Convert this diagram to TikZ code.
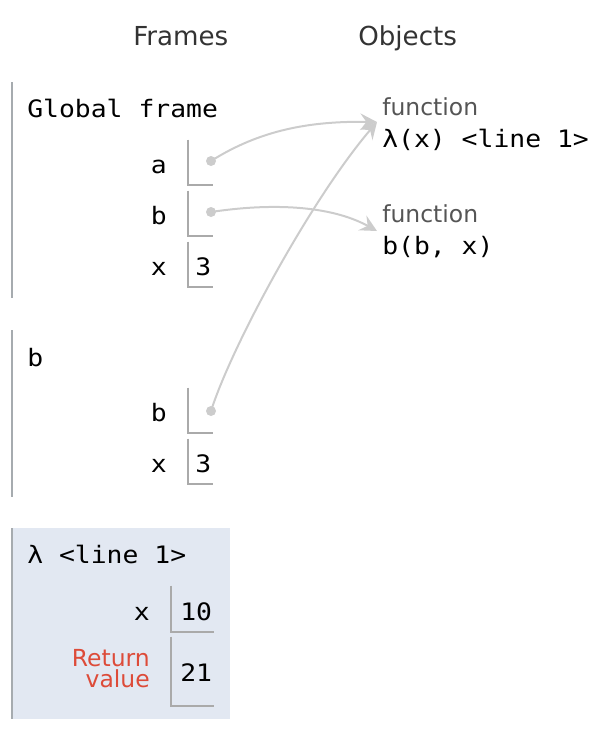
\documentclass[tikz,border=0pt]{standalone}
\usepackage{fontspec}
\setmainfont{DejaVu Sans}
\setmonofont{DejaVu Sans Mono}[FakeStretch=1.1]
\usetikzlibrary{arrows.meta}

\definecolor{framebar}{HTML}{A6ABAF}
\definecolor{boxline}{HTML}{AAAAAA}
\definecolor{linkgray}{HTML}{CCCCCC}
\definecolor{headgray}{HTML}{333333}
\definecolor{objgray}{HTML}{555555}
\definecolor{retred}{HTML}{DD4B39}
\definecolor{activebg}{HTML}{E2E8F2}

\tikzset{
  heading/.style={font=\fontsize{19.6}{23}\selectfont, text=headgray, inner sep=0pt, anchor=base west},
  monotext/.style={font=\ttfamily\fontsize{18}{21}\selectfont, inner sep=0pt},
  frametitle/.style={monotext, anchor=base west},
  varname/.style={monotext, anchor=base east},
  varval/.style={monotext, anchor=base west},
  objlabel/.style={font=\fontsize{17.6}{21}\selectfont, text=objgray, inner sep=0pt, anchor=base west},
  objval/.style={monotext, anchor=base west},
  retlabel/.style={font=\fontsize{17.6}{15.75}\selectfont, text=retred, inner sep=0pt, align=right, anchor=base east},
  valbox/.style={draw=none, inner sep=0pt, minimum width=#1*0.75pt},
  valbox/.default=25,
  boxedge/.style={draw=boxline, line width=1.5pt},
  bar/.style={draw=framebar, line width=1.6pt},
  ptrdot/.style={circle, fill=linkgray, inner sep=0pt, minimum size=7.5pt},
  link/.style={draw=linkgray, line width=1.5pt,
    -{Stealth[length=12.5pt, width=12.5pt, inset=4.5pt, fill=linkgray]}},
}

\begin{document}
\begin{tikzpicture}[x=0.75pt, y=-0.75pt]
\useasboundingbox (0,0) rectangle (602,744);

% column headings
\node[heading] (hframes) at (133,45) {Frames};
\node[heading] (hobjects) at (358,45) {Objects};

% ---- global frame ----
\draw[bar] (12,82) -- (12,298);
\node[frametitle] (gtitle) at (27,117) {Global frame};

\node[valbox, minimum height=45*0.75pt] (ga) at (200.5,162.5) {};
\draw[boxedge] (ga.north west) |- (ga.south east);
\node[varname] (gan) at (167,173) {a};
\node[ptrdot] (gadot) at (211,161) {};

\node[valbox, minimum height=45*0.75pt] (gb) at (200.5,213.5) {};
\draw[boxedge] (gb.north west) |- (gb.south east);
\node[varname] (gbn) at (167,224) {b};
\node[ptrdot] (gbdot) at (211,212) {};

\node[valbox, minimum height=45*0.75pt] (gx) at (200.5,264.5) {};
\draw[boxedge] (gx.north west) |- (gx.south east);
\node[varname] (gxn) at (167,275) {x};
\node[varval] (gxv) at (195,275) {3};

% ---- frame of b ----
\draw[bar] (12,330) -- (12,497);
\node[frametitle] (btitle) at (27,366) {b};

\node[valbox, minimum height=45*0.75pt] (bb) at (200.5,410.5) {};
\draw[boxedge] (bb.north west) |- (bb.south east);
\node[varname] (bbn) at (167,421) {b};
\node[ptrdot] (bbdot) at (211,411) {};

\node[valbox, minimum height=45*0.75pt] (bx) at (200.5,461.5) {};
\draw[boxedge] (bx.north west) |- (bx.south east);
\node[varname] (bxn) at (167,472) {x};
\node[varval] (bxv) at (195,472) {3};

% ---- lambda frame (active) ----
\fill[activebg] (12,528) rectangle (230,719);
\draw[bar] (12,528) -- (12,719);
\node[frametitle] (ltitle) at (27,563) {λ <line 1>};

\node[valbox=43, minimum height=46*0.75pt] (lx) at (192.5,609) {};
\draw[boxedge] (lx.north west) |- (lx.south east);
\node[varname] (lxn) at (150,620) {x};
\node[varval] (lxv) at (180,620) {10};

\node[valbox=43, minimum height=69*0.75pt] (lr) at (192.5,671.5) {};
\draw[boxedge] (lr.north west) |- (lr.south east);
\node[retlabel] (lrn) at (150,687) {Return\\value};
\node[varval] (lrv) at (180,681) {21};

% ---- heap objects ----
\node[objlabel] (f1lab) at (382,115) {function};
\node[objval] (f1val) at (382,147) {λ(x) <line 1>};
\node[objlabel] (f2lab) at (382,222) {function};
\node[objval] (f2val) at (382,254) {b(b, x)};
\coordinate (f1in) at (377,122);
\coordinate (f2in) at (377,231);

% ---- references ----
\draw[link] (gadot.center) .. controls (260,130) and (310,121) .. (f1in);
\draw[link] (gbdot.center) .. controls (270,203) and (330,205) .. (f2in);
\draw[link] (bbdot.center) .. controls (232,345) and (312,198) .. (f1in);
\end{tikzpicture}
\end{document}
